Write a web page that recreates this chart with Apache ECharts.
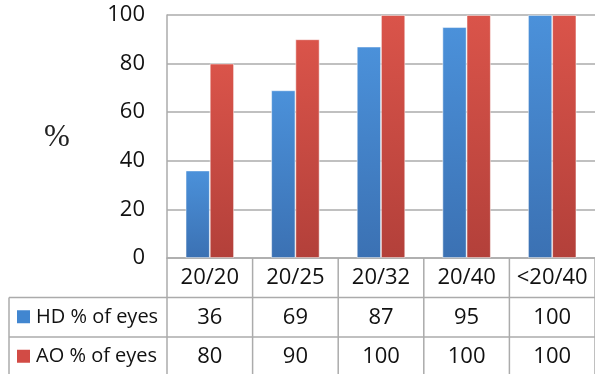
<!DOCTYPE html>
<html>
<head>
<meta charset="utf-8">
<script src="https://cdn.jsdelivr.net/npm/echarts@6/dist/echarts.min.js"></script>
<style>
html,body{margin:0;padding:0;background:#fff;}
#c{width:595px;height:374px;}
</style>
</head>
<body>
<div id="c"></div>
<script>
const categories = ['20/20', '20/25', '20/32', '20/40', '<20/40'];
const hdValues = [36, 69, 87, 95, 100];
const aoValues = [80, 90, 100, 100, 100];
const seriesNames = ['HD % of eyes', 'AO % of eyes'];
const yMin = 0, yMax = 100, yStep = 20;
const yAxisName = '%';

const FONT = 'Open Sans';
const FS = 22;
const LINE = '#ababab';
const blueGrad = new echarts.graphic.LinearGradient(0, 0, 0, 1, [
  {offset: 0, color: '#4b91da'}, {offset: 1, color: '#3b71b3'}]);
const redGrad = new echarts.graphic.LinearGradient(0, 0, 0, 1, [
  {offset: 0, color: '#da544a'}, {offset: 1, color: '#b3403a'}]);

const chart = echarts.init(document.getElementById('c'), null, {renderer: 'canvas'});
chart.setOption({
  animation: false,
  backgroundColor: '#fff',
  grid: {left: 167, top: 15, width: 433, bottom: 116, containLabel: false},
  xAxis: {
    type: 'category',
    data: categories,
    axisLine: {show: true, lineStyle: {color: LINE, width: 1.5}},
    axisTick: {show: false},
    axisLabel: {interval: 0, hideOverlap: false, fontFamily: FONT, fontSize: FS, color: '#111', verticalAlign: 'middle', margin: 20}
  },
  yAxis: {
    type: 'value', min: yMin, max: yMax, interval: yStep,
    axisLine: {show: true, lineStyle: {color: LINE, width: 1.5}},
    axisTick: {show: false},
    axisLabel: {fontFamily: FONT, fontSize: FS, color: '#111', margin: 22},
    splitLine: {show: true, lineStyle: {color: LINE, width: 1.5}}
  },
  series: [
    {name: seriesNames[0], type: 'bar', data: hdValues, barGap: '0%', barCategoryGap: '43.5%',
     itemStyle: {color: blueGrad, borderColor: 'rgba(255,255,255,0.35)', borderWidth: 0.8}},
    {name: seriesNames[1], type: 'bar', data: aoValues, barGap: '0%', barCategoryGap: '43.5%',
     itemStyle: {color: redGrad, borderColor: 'rgba(255,255,255,0.35)', borderWidth: 0.8}}
  ]
});

// Build the data table beneath the axis using the chart's own scales
const c0 = chart.convertToPixel({xAxisIndex: 0}, categories[0]);
const c1 = chart.convertToPixel({xAxisIndex: 0}, categories[1]);
const band = c1 - c0;
const yTop = chart.convertToPixel({yAxisIndex: 0}, 0);
const rowH = 39.5;
const tableLeft = 9;
const xLeft = c0 - band / 2;
const xRight = xLeft + band * categories.length;
const bottom = yTop + rowH * 3;
const g = [];
const line = (x1, y1, x2, y2) => g.push({type: 'line', shape: {x1, y1, x2, y2}, style: {stroke: LINE, lineWidth: 1.5}, silent: true});
for (let r = 1; r <= 3; r++) line(tableLeft, yTop + rowH * r, xRight, yTop + rowH * r);
line(tableLeft, yTop + rowH, tableLeft, bottom);
for (let i = 0; i <= categories.length; i++) line(xLeft + band * i, yTop, xLeft + band * i, bottom);

const rows = [hdValues, aoValues];
const keyColors = ['#4186d0', '#d24b45'];
rows.forEach((vals, r) => {
  const cy = yTop + rowH * (r + 1.5);
  g.push({type: 'rect', shape: {x: 17, y: cy - 7, width: 13, height: 13}, style: {fill: keyColors[r]}, silent: true});
  g.push({type: 'text', x: 36, y: cy, style: {text: seriesNames[r], font: '20px "' + FONT + '"', fill: '#111', verticalAlign: 'middle', align: 'left'}, silent: true});
  vals.forEach((v, i) => {
    const cx = chart.convertToPixel({xAxisIndex: 0}, categories[i]);
    g.push({type: 'text', x: cx, y: cy, style: {text: String(v), font: FS + 'px "' + FONT + '"', fill: '#111', align: 'center', verticalAlign: 'middle'}, silent: true});
  });
});
g.push({type: 'text', x: 57, y: 138, style: {text: yAxisName, font: '31px "Liberation Serif"', fill: '#222', align: 'center', verticalAlign: 'middle'}, silent: true});
chart.setOption({graphic: g});
</script>
</body>
</html>
